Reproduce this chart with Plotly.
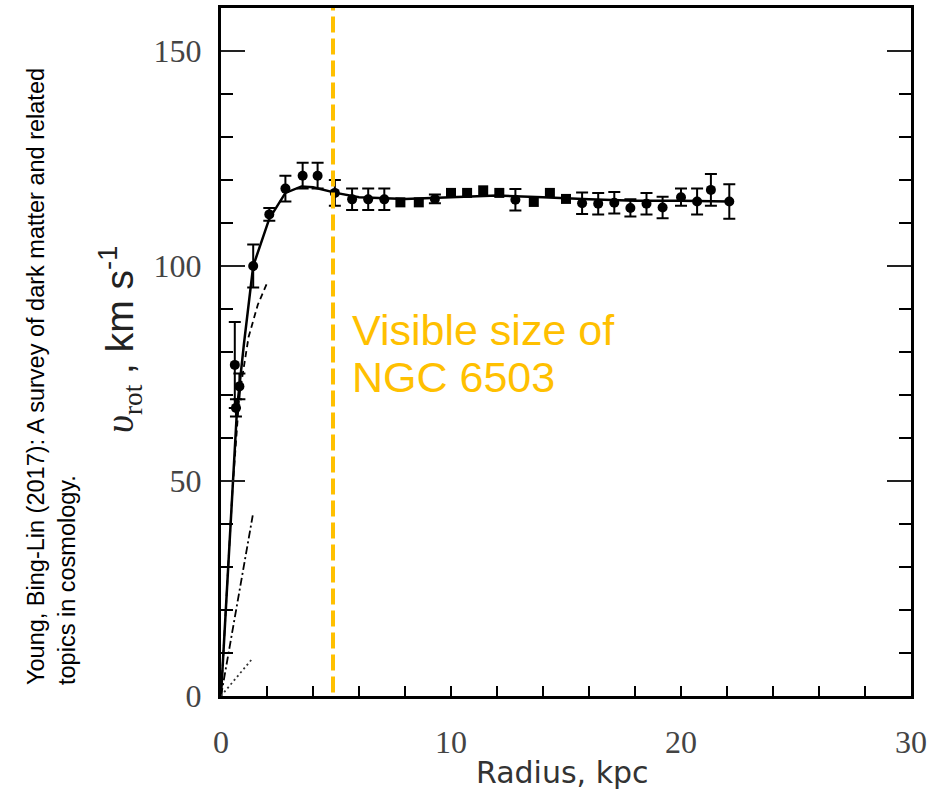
import plotly.graph_objects as go

# ---- data ----
# observed points with error bars (circles)
r_circ = [0.6, 0.8, 0.65, 1.4, 2.1, 2.8, 3.55, 4.2, 4.95, 5.7, 6.4, 7.1, 9.3, 12.8,
          15.7, 16.4, 17.1, 17.8, 18.5, 19.2, 20.0, 20.7, 21.3, 22.1]
v_circ = [77, 72, 67, 100, 112, 118, 121, 121, 117, 115.5, 115.5, 115.5, 115.6, 115.4,
          114.6, 114.5, 114.7, 113.5, 114.5, 113.6, 116, 115, 117.7, 115]
e_circ = [10, 3, 2, 5, 1.5, 3, 3, 3, 3, 2.5, 2.5, 2.5, 1, 2.5,
          2.5, 2.5, 2.5, 2, 2.5, 2.5, 2, 3, 3.7, 4]
# observed points without error bars (squares)
r_sq = [7.8, 8.6, 10.0, 10.7, 11.4, 12.1, 13.6, 14.3, 15.0]
v_sq = [114.8, 114.8, 117, 117, 117.6, 117, 114.9, 117, 115.6]

# model curves
r_total = [0, 0.3, 0.7, 1.0, 1.4, 2.1, 2.8, 3.5, 4.0, 5.0, 6, 8, 10, 12, 14, 16, 18, 20, 22.1]
v_total = [0, 30, 67, 82, 100, 111, 117, 118.5, 118.3, 117, 116, 115.6, 116, 116.4, 116, 115.5, 115.2, 115.2, 115]
r_disk = [0, 0.5, 0.8, 1.2, 1.6, 2.0]
v_disk = [0, 48, 70, 83.5, 91, 96]
r_halo = [0, 0.7, 1.38]
v_halo = [0, 21, 42]
r_gas = [0, 0.7, 1.35]
v_gas = [0, 4.5, 8.6]

visible_r = 4.87

x_ticks = [0, 10, 20, 30]
y_ticks = [0, 50, 100, 150]

# ---- geometry (body margin removed below) ----
W, H = 929, 803
OFF = 0
SX0, SX1, SY0, SY1 = 221, 911, 8, 696   # plot area in screen pixels
L = SX0 - OFF
R = W - (SX1 - OFF)
T = SY0 - OFF
B = H - (SY1 - OFF)
PW, PH = SX1 - SX0, SY1 - SY0

def px(xp):
    return (xp - SX0) / PW

def py(yp):
    return (SY1 - yp) / PH

fig = go.Figure()

fig.add_trace(go.Scatter(x=r_total, y=v_total, mode="lines",
                         line=dict(color="black", width=2.5), hoverinfo="skip"))
fig.add_trace(go.Scatter(x=r_disk, y=v_disk, mode="lines",
                         line=dict(color="black", width=1.8, dash="6px,4px"), hoverinfo="skip"))
fig.add_trace(go.Scatter(x=r_halo, y=v_halo, mode="lines",
                         line=dict(color="black", width=1.8, dash="8px,3px,2px,3px"), hoverinfo="skip"))
fig.add_trace(go.Scatter(x=r_gas, y=v_gas, mode="lines",
                         line=dict(color="#333", width=1.8, dash="2px,3px"), hoverinfo="skip"))

fig.add_trace(go.Scatter(x=r_circ, y=v_circ, mode="markers",
                         marker=dict(symbol="circle", size=10, color="black"),
                         error_y=dict(type="data", array=e_circ, color="black", thickness=2, width=6)))
fig.add_trace(go.Scatter(x=r_sq, y=v_sq, mode="markers",
                         marker=dict(symbol="square", size=10, color="black")))

fig.add_trace(go.Scatter(x=[visible_r, visible_r], y=[0.8, 160], mode="lines",
                         line=dict(color="#FFC000", width=4, dash="16px,6px"), hoverinfo="skip"))

tickfont = dict(family="Liberation Serif, Times New Roman, serif", size=32, color="#444")

fig.update_layout(
    width=W, height=H, showlegend=False,
    margin=dict(l=L, r=R, t=T, b=B, autoexpand=False),
    plot_bgcolor="white", paper_bgcolor="white",
    xaxis=dict(range=[0, 30], tickvals=x_ticks, ticks="inside", ticklen=10, tickwidth=2,
               tickcolor="black", showline=True, linewidth=3, linecolor="black", mirror=True,
               showgrid=False, zeroline=False, tickfont=tickfont, ticklabelstandoff=16,
               automargin=False,
               minor=dict(dtick=2, ticks="inside", ticklen=10, tickwidth=2, tickcolor="black", showgrid=False)),
    yaxis=dict(range=[0, 160], tickvals=y_ticks, ticks="inside", ticklen=24, tickwidth=1.5,
               tickcolor="#222", showline=True, linewidth=3, linecolor="black", mirror="ticks",
               showgrid=False, zeroline=False, tickfont=tickfont, ticklabelstandoff=10,
               automargin=False,
               minor=dict(dtick=10, ticks="inside", ticklen=12, tickwidth=2, tickcolor="black", showgrid=False)),
)

anns = []
anns.append(dict(text="Radius, kpc", x=px(562), y=py(772), xref="paper", yref="paper",
                 showarrow=False, font=dict(family="DejaVu Sans", size=30, color="#333"),
                 xanchor="center", yanchor="middle"))
anns.append(dict(text="<span style='font-family:Liberation Serif;font-style:italic'>υ</span>"
                      "<sub><span style='font-family:Liberation Serif'>rot</span></sub> , km s<sup>-1</sup>",
                 x=px(120), y=py(340), xref="paper", yref="paper", textangle=-90,
                 showarrow=False, font=dict(family="Liberation Sans, Arial", size=39, color="#222"),
                 xanchor="center", yanchor="middle"))
anns.append(dict(text="Young, Bing-Lin (2017): A survey of dark matter and related<br>topics in cosmology.",
                 x=px(52), y=py(377), xref="paper", yref="paper", textangle=-90, align="left",
                 showarrow=False, font=dict(family="Liberation Sans Narrow, Liberation Sans, Arial", size=23.5, color="black"),
                 xanchor="center", yanchor="middle"))
anns.append(dict(text="Visible size of", x=px(350), y=py(330), xref="paper", yref="paper",
                 showarrow=False, font=dict(family="Liberation Sans, Arial", size=43, color="#FFC000"),
                 xanchor="left", yanchor="middle"))
anns.append(dict(text="NGC 6503", x=px(350), y=py(377), xref="paper", yref="paper",
                 showarrow=False, font=dict(family="Liberation Sans, Arial", size=43, color="#FFC000"),
                 xanchor="left", yanchor="middle"))
fig.update_layout(annotations=anns)

fig.write_html("out.html", config={"displayModeBar": False},
               post_script="document.body.style.margin='0';")
